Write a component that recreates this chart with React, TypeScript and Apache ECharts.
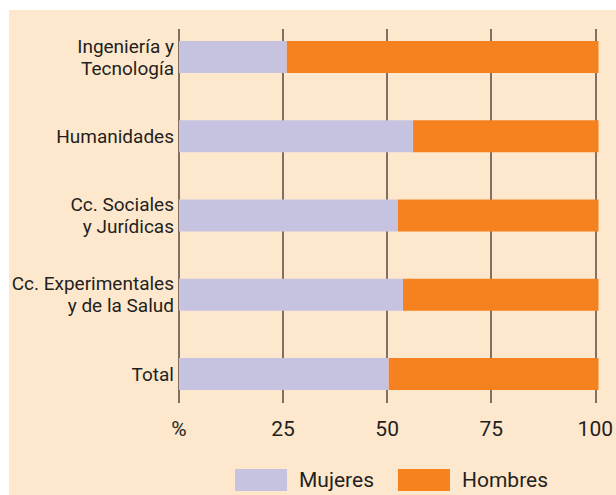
import React, { useEffect, useRef } from "react";
import * as echarts from "echarts";

const categories = [
  "Ingeniería y\nTecnología",
  "Humanidades",
  "Cc. Sociales\ny Jurídicas",
  "Cc. Experimentales\ny de la Salud",
  "Total",
];
const mujeres = [25.7, 55.8, 52.2, 53.4, 50];
const hombres = [74.3, 44.2, 47.8, 46.6, 50];
const seriesNames = ["Mujeres", "Hombres"];
const tickLabels: Record<number, string> = { 0: "%", 25: "25", 50: "50", 75: "75", 100: "100" };

const BG = "#fee8cd";
const LAV = "#c6c3e1";
const ORANGE = "#f5821f";
const TEXT = "#231f20";

export default function App() {
  const ref = useRef<HTMLDivElement>(null);
  useEffect(() => {
    if (!ref.current) return;
    const chart = echarts.init(ref.current, undefined, { renderer: "svg" });
    chart.setOption({
      animation: false,
      backgroundColor: "#ffffff",
      graphic: [
        {
          type: "rect",
          z: -10,
          silent: true,
          shape: { x: 9, y: 10, width: 607, height: 485 },
          style: { fill: BG },
        },
      ],
      grid: [
        { left: 179, width: 419.5, top: 17.4, height: 396.3 },
        { left: 179, width: 419.5, top: 29, height: 374 },
      ],
      xAxis: [
        { type: "value", gridIndex: 0, min: 0, max: 100, show: false },
        {
          type: "value",
          gridIndex: 1,
          min: 0,
          max: 100,
          interval: 25,
          axisLine: { show: false },
          axisTick: { show: false },
          splitLine: { show: true, lineStyle: { color: "#54493f", width: 1.5 } },
          axisLabel: {
            margin: 15,
            fontFamily: "Roboto",
            fontSize: 21,
            color: TEXT,
            formatter: (v: number) => tickLabels[v] ?? String(v),
          },
        },
      ],
      yAxis: [
        {
          type: "category",
          gridIndex: 0,
          data: categories,
          inverse: true,
          axisLine: { show: false },
          axisTick: { show: false },
          splitLine: { show: false },
          axisLabel: {
            margin: 5,
            align: "right",
            fontFamily: "Roboto",
            fontSize: 19,
            lineHeight: 22,
            color: TEXT,
          },
        },
        { type: "value", gridIndex: 1, show: false, min: 0, max: 1 },
      ],
      legend: {
        left: 230,
        top: 464,
        itemWidth: 52,
        itemHeight: 22,
        itemGap: 24,
        icon: "rect",
        data: seriesNames,
        textStyle: {
          fontFamily: "Roboto",
          fontSize: 21,
          color: TEXT,
          padding: [0, 0, 0, 7],
        },
      },
      series: [
        {
          name: seriesNames[0],
          type: "bar",
          stack: "t",
          xAxisIndex: 0,
          yAxisIndex: 0,
          barWidth: 32,
          data: mujeres,
          itemStyle: { color: LAV },
        },
        {
          name: seriesNames[1],
          type: "bar",
          stack: "t",
          xAxisIndex: 0,
          yAxisIndex: 0,
          barWidth: 32,
          data: hombres,
          itemStyle: { color: ORANGE },
        },
      ],
    });
    return () => chart.dispose();
  }, []);
  return (
    <div
      ref={ref}
      style={{ position: "fixed", left: 0, top: 0, width: 616, height: 495 }}
    />
  );
}
